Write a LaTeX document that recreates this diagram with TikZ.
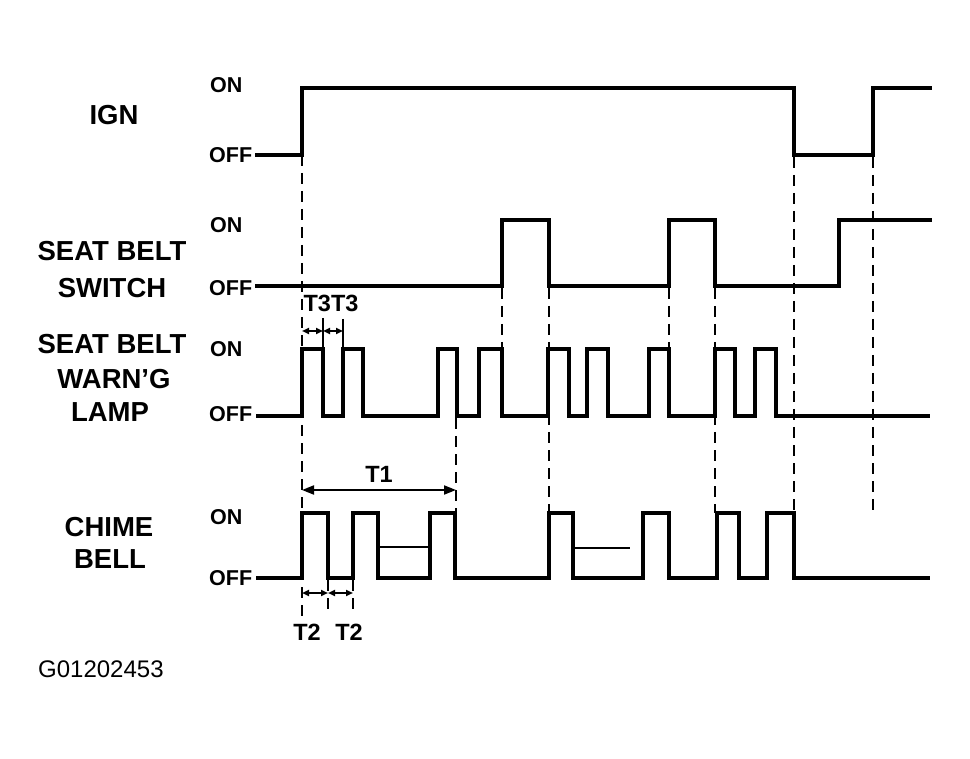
\documentclass[tikz,border=0pt]{standalone}
\usepackage{fontspec}
\setmainfont{Liberation Sans}
\usetikzlibrary{arrows.meta}
\begin{document}
\begin{tikzpicture}[x=1pt,y=-1pt,
  sig/.style={line width=3.2pt,line join=miter,line cap=butt},
  thin/.style={line width=1.6pt},
  dsh/.style={line width=2.2pt,dash pattern=on 11pt off 7pt},
  dim/.style={line width=2pt,{Triangle[length=12pt,width=9pt]}-{Triangle[length=12pt,width=9pt]}},
  sdim/.style={line width=1.8pt,{Triangle[length=7pt,width=6pt]}-{Triangle[length=7pt,width=6pt]}},
  lbl/.style={font=\fontsize{27.5}{31}\selectfont\bfseries,inner sep=0pt},
  lvl/.style={font=\fontsize{21.5}{24}\selectfont\bfseries,inner sep=0pt,anchor=west},
  tl/.style={font=\fontsize{23.5}{26}\selectfont\bfseries,inner sep=0pt}
]
\useasboundingbox (0,0) rectangle (970,759);
\fill[white] (0,0) rectangle (970,759);

% ---- labels
\node[lbl] (ign) at (114,115) {IGN};
\node[lbl] (sw1) at (112,251) {SEAT BELT};
\node[lbl] (sw2) at (112,288) {SWITCH};
\node[lbl] (lp1) at (112,344) {SEAT BELT};
\node[lbl] (lp2) at (114,379) {WARN\symbol{"27}G};
\node[lbl] (lp3) at (110,412) {LAMP};
\node[lbl] (ch1) at (109,527) {CHIME};
\node[lbl] (ch2) at (110,559) {BELL};

\node[lvl] (ignon) at (210,85) {ON};
\node[lvl] (ignoff) at (209,155) {OFF};
\node[lvl] (swon) at (210,225) {ON};
\node[lvl] (swoff) at (209,288) {OFF};
\node[lvl] (lpon) at (210,349) {ON};
\node[lvl] (lpoff) at (209,414) {OFF};
\node[lvl] (chon) at (210,517) {ON};
\node[lvl] (choff) at (209,578) {OFF};

\node[tl] (t3) at (331,303) {T3T3};
\node[tl] (t1) at (379,474) {T1};
\node[tl] (t2a) at (307,632) {T2};
\node[tl] (t2b) at (349,632) {T2};

\node[font=\fontsize{24}{28}\selectfont,inner sep=0pt,anchor=west] (code) at (38,669) {G01202453};

% ---- dashed guides
\draw[dsh] (302,155) -- (302,616);
\draw[dsh] (328,580) -- (328,612);
\draw[dsh,line width=1.2pt] (353,580) -- (353,610);
\draw[dsh] (456,418) -- (456,513);
\draw[dsh] (502,288) -- (502,349);
\draw[dsh] (549,288) -- (549,513);
\draw[dsh] (669,288) -- (669,349);
\draw[dsh] (715,288) -- (715,513);
\draw[dsh] (794,157) -- (794,513);
\draw[dsh] (873,157) -- (873,515);

% ---- signals
\draw[sig] (255,155) -- (302,155) -- (302,88) -- (794,88) -- (794,155) -- (873,155) -- (873,88) -- (932,88);
\draw[sig] (255,286) -- (502,286) -- (502,220) -- (549,220) -- (549,286) -- (669,286) -- (669,220) -- (715,220) -- (715,286) -- (839,286) -- (839,220) -- (932,220);
\draw[sig] (256,416) -- (302,416) -- (302,349) -- (323,349) -- (323,416)
  -- (343,416) -- (343,349) -- (363,349) -- (363,416)
  -- (438,416) -- (438,349) -- (457,349) -- (457,416)
  -- (479,416) -- (479,349) -- (502,349) -- (502,416)
  -- (548,416) -- (548,349) -- (569,349) -- (569,416)
  -- (587,416) -- (587,349) -- (608,349) -- (608,416)
  -- (649,416) -- (649,349) -- (669,349) -- (669,416)
  -- (715,416) -- (715,349) -- (735,349) -- (735,416)
  -- (755,416) -- (755,349) -- (776,349) -- (776,416) -- (930,416);
\draw[sig] (256,578) -- (302,578) -- (302,513) -- (328,513) -- (328,578)
  -- (353,578) -- (353,513) -- (378,513) -- (378,578)
  -- (430,578) -- (430,513) -- (455,513) -- (455,578)
  -- (549,578) -- (549,513) -- (573,513) -- (573,578)
  -- (643,578) -- (643,513) -- (669,513) -- (669,578)
  -- (717,578) -- (717,513) -- (739,513) -- (739,578)
  -- (767,578) -- (767,513) -- (794,513) -- (794,578) -- (930,578);
\draw[thin] (378,547) -- (430,547);
\draw[thin] (573,548) -- (630,548);

% ---- T3 ticks
\draw[thin] (323,318) -- (323,349);
\draw[thin] (343,319) -- (343,349);

% ---- dimension arrows
\coordinate (a0) at (302,331);
\coordinate (a1) at (323,331);
\coordinate (a2) at (343,331);
\draw[sdim] (a0) -- (a1);
\draw[sdim] (a1) -- (a2);
\coordinate (b0) at (302,490);
\coordinate (b1) at (456,490);
\draw[dim] (b0) -- (b1);
\coordinate (c0) at (302,593);
\coordinate (c1) at (328,593);
\coordinate (c2) at (353,593);
\draw[sdim] (c0) -- (c1);
\draw[sdim] (c1) -- (c2);
\end{tikzpicture}
\end{document}
